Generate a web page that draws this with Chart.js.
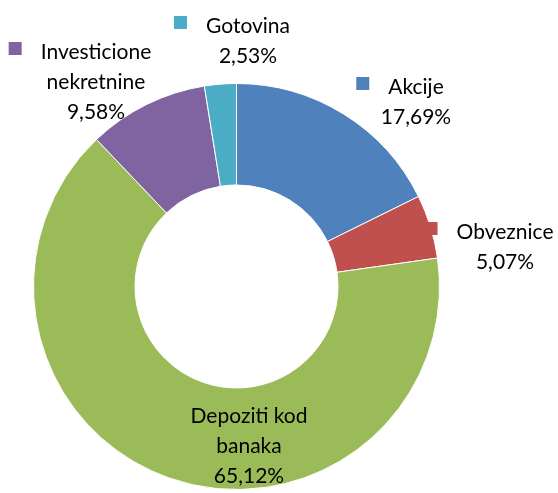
<!doctype html>
<html lang="sr">
<head>
<meta charset="UTF-8" />
<title>Struktura ulaganja</title>
<style>
  html, body { margin: 0; padding: 0; background: #ffffff; }
  #wrap { width: 558px; height: 493px; }
</style>
</head>
<body>
<div id="wrap"><canvas id="canvas" width="558" height="493"></canvas></div>

<script src="https://cdn.jsdelivr.net/npm/chart.js"></script>
<script>
// data
const categories = ['Akcije', 'Obveznice', 'Depoziti kod banaka', 'Investicione nekretnine', 'Gotovina']
const shares = [17.69, 5.07, 65.12, 9.58, 2.53]
const colors = ['#4F81BD', '#C0504D', '#9BBB59', '#8064A2', '#4BACC6']

// how each label is broken into lines, and where it sits (offset from the ring centre, first baseline)
const labelLines = [['Akcije'], ['Obveznice'], ['Depoziti kod', 'banaka'], ['Investicione', 'nekretnine'], ['Gotovina']]
const labelOffsets = [[179.5, -192.5], [268.5, -47.5], [12.5, 136.5], [-140.5, -227.5], [11.5, -253.5]]
const showMarker = [true, true, false, true, true]

const FONT = '21px Lato'
const LINE_H = 30

function fmt(v) { return v.toFixed(2).replace('.', ',') + '%' }

const labelPlugin = {
  id: 'excelLabels',
  afterDraw: (chart) => {
    const {ctx} = chart
    const arcs = chart.getDatasetMeta(0).data
    const cx = arcs[0].x, cy = arcs[0].y
    ctx.save()
    ctx.font = FONT
    ctx.fillStyle = '#000000'
    ctx.textAlign = 'center'
    ctx.textBaseline = 'alphabetic'
    shares.forEach((v, i) => {
      const x = cx + labelOffsets[i][0]
      let y = cy + labelOffsets[i][1]
      const lines = labelLines[i].concat([fmt(v)])
      if (showMarker[i]) {
        const w = ctx.measureText(lines[0]).width
        ctx.fillStyle = colors[i]
        ctx.fillRect(x - w / 2 - 19 - 13, y - 7.5 - 3 - 6.5, 13, 13)
        ctx.fillStyle = '#000000'
      }
      lines.forEach(t => { ctx.fillText(t, x, y); y += LINE_H })
    })
    ctx.restore()
  }
}

new Chart(document.getElementById('canvas'), {
  type: 'doughnut',
  data: {
    labels: categories,
    datasets: [{
      data: shares,
      backgroundColor: colors,
      borderColor: '#ffffff',
      borderWidth: 1
    }]
  },
  options: {
    responsive: false,
    animation: false,
    cutout: '50%',
    layout: { padding: { left: 33, right: 118, top: 83, bottom: 3 } },
    plugins: {
      legend: { display: false },
      tooltip: { enabled: false }
    }
  },
  plugins: [labelPlugin]
})
</script>
</body>
</html>
